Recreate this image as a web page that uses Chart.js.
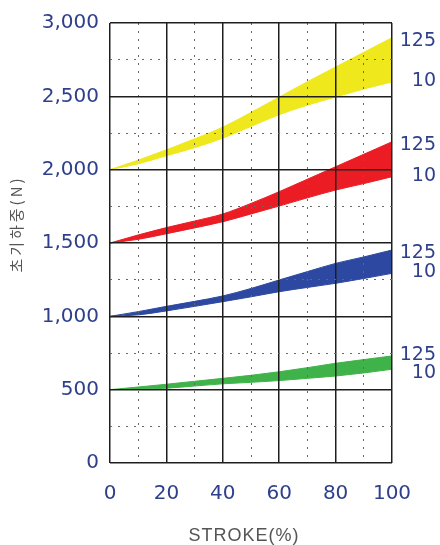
<!DOCTYPE html>
<html>
<head>
<meta charset="utf-8">
<script src="https://cdn.jsdelivr.net/npm/chart.js@4.4.1/dist/chart.umd.min.js"></script>
<style>
  html, body { margin: 0; padding: 0; background: #fff; }
  #wrap { width: 440px; height: 545px; }
</style>
</head>
<body>
<div id="wrap"><canvas id="c" width="440" height="545"></canvas></div>
<script>
// Stroke positions (%)
const strokes = [0, 10, 20, 30, 40, 50, 60, 70, 80, 90, 100];

// Initial load (N) per spring; "125" = upper edge, "10" = lower edge of each band
const yellow125 = [2000, 2065, 2135, 2210, 2290, 2390, 2495, 2600, 2700, 2800, 2900];
const yellow10  = [2000, 2040, 2095, 2150, 2215, 2295, 2375, 2440, 2495, 2550, 2598];
const red125    = [1500, 1555, 1605, 1650, 1698, 1770, 1850, 1935, 2020, 2105, 2190];
const red10     = [1500, 1525, 1563, 1603, 1645, 1698, 1752, 1808, 1861, 1905, 1952];
const blue125   = [1000, 1032, 1068, 1102, 1139, 1190, 1248, 1305, 1361, 1405, 1452];
const blue10    = [1000, 1010, 1037, 1068, 1100, 1133, 1168, 1197, 1225, 1258, 1293];
const green125  = [500, 518, 537, 557, 577, 598, 622, 650, 680, 705, 730];
const green10   = [500, 504, 510, 525, 540, 550, 562, 577, 593, 614, 639];

const yTicks = [0, 500, 1000, 1500, 2000, 2500, 3000];
const yMinorTicks = [250, 750, 1250, 1750, 2250, 2750];
const xTicks = [0, 20, 40, 60, 80, 100];
const xMinorTicks = [10, 30, 50, 70, 90];
const edgeLabels = ['125', '10'];
const xTitle = 'STROKE(%)';
const yTitle = '초기하중(N)';

const bands = [
  { upper: yellow125, lower: yellow10, color: '#eee81c' },
  { upper: red125,    lower: red10,    color: '#ec1c24' },
  { upper: blue125,   lower: blue10,   color: '#2c48a0' },
  { upper: green125,  lower: green10,  color: '#3fb34a' }
];

const pts = arr => arr.map((v, i) => ({ x: strokes[i], y: v }));

const datasets = [];
bands.forEach(b => {
  datasets.push({ data: pts(b.lower), borderColor: b.color, backgroundColor: b.color,
    borderWidth: 1, pointRadius: 0, fill: false, cubicInterpolationMode: 'monotone' });
  datasets.push({ data: pts(b.upper), borderColor: b.color, backgroundColor: b.color,
    borderWidth: 1, pointRadius: 0, fill: '-1', cubicInterpolationMode: 'monotone' });
});

const labelBlue = '#2e3f8c';
const font = 'DejaVu Sans, Verdana, sans-serif';

// Axis titles and the 125 / 10 markers at the right-hand end of each band
const annotatePlugin = {
  id: 'annotate',
  afterDraw(chart) {
    const ctx = chart.ctx;
    const y = chart.scales.y;
    const area = chart.chartArea;
    ctx.save();

    ctx.fillStyle = labelBlue;
    ctx.font = '19px ' + font;
    ctx.textAlign = 'right';
    ctx.textBaseline = 'middle';
    bands.forEach(b => {
      const last = b.upper.length - 1;
      const pu = y.getPixelForValue(b.upper[last]);
      const pl = y.getPixelForValue(b.lower[last]);
      const mid = (pu + pl) / 2 + 1;
      const gap = Math.max(pl - pu - 4, 18);
      ctx.fillText(edgeLabels[0], 436, mid - gap / 2);
      ctx.fillText(edgeLabels[1], 436, mid + gap / 2);
    });

    ctx.fillStyle = '#555';
    ctx.textAlign = 'center';
    ctx.letterSpacing = '1px';
    ctx.font = '18px "Liberation Sans", Arial, sans-serif';
    ctx.fillText(xTitle, (area.left + area.right) / 2 - 7, 536);

    ctx.letterSpacing = '3px';
    ctx.font = '15px "Noto Sans CJK KR", sans-serif';
    ctx.translate(16, 224);
    ctx.rotate(-Math.PI / 2);
    ctx.fillText(yTitle, 0, 0);
    ctx.restore();
  }
};

new Chart(document.getElementById('c'), {
  type: 'line',
  data: { datasets },
  options: {
    responsive: false,
    animation: false,
    layout: { padding: { left: 0, right: 48, top: 23, bottom: 0 } },
    plugins: { legend: { display: false }, tooltip: { enabled: false } },
    scales: {
      x: {
        type: 'linear', min: 0, max: 100,
        afterBuildTicks: s => { s.ticks = xTicks.map(v => ({ value: v })); },
        grid: { color: '#1e1e1e', lineWidth: 1.5, drawTicks: false, z: 1 },
        border: { display: false },
        ticks: { color: labelBlue, font: { family: font, size: 20 }, padding: 19 },
        afterFit: s => { s.height = 82; }
      },
      x2: {
        type: 'linear', min: 0, max: 100, position: 'bottom',
        afterBuildTicks: s => { s.ticks = xMinorTicks.map(v => ({ value: v })); },
        grid: { color: '#666', lineWidth: 1, drawTicks: false, z: 1 },
        border: { display: false, dash: [2, 6] },
        ticks: { display: false },
        afterFit: s => { s.height = 0; }
      },
      y: {
        type: 'linear', min: 0, max: 3000,
        afterBuildTicks: s => { s.ticks = yTicks.map(v => ({ value: v })); },
        grid: { color: '#1e1e1e', lineWidth: 1.5, drawTicks: false, z: 1 },
        border: { display: false },
        ticks: {
          color: labelBlue, font: { family: font, size: 20 }, padding: 11,
          callback: v => v.toLocaleString('en-US')
        },
        afterFit: s => { s.width = 110; }
      },
      y2: {
        type: 'linear', min: 0, max: 3000, position: 'left',
        afterBuildTicks: s => { s.ticks = yMinorTicks.map(v => ({ value: v })); },
        grid: { color: '#666', lineWidth: 1, drawTicks: false, z: 1 },
        border: { display: false, dash: [2, 6] },
        ticks: { display: false },
        afterFit: s => { s.width = 0; }
      }
    }
  },
  plugins: [annotatePlugin]
});
</script>
</body>
</html>
